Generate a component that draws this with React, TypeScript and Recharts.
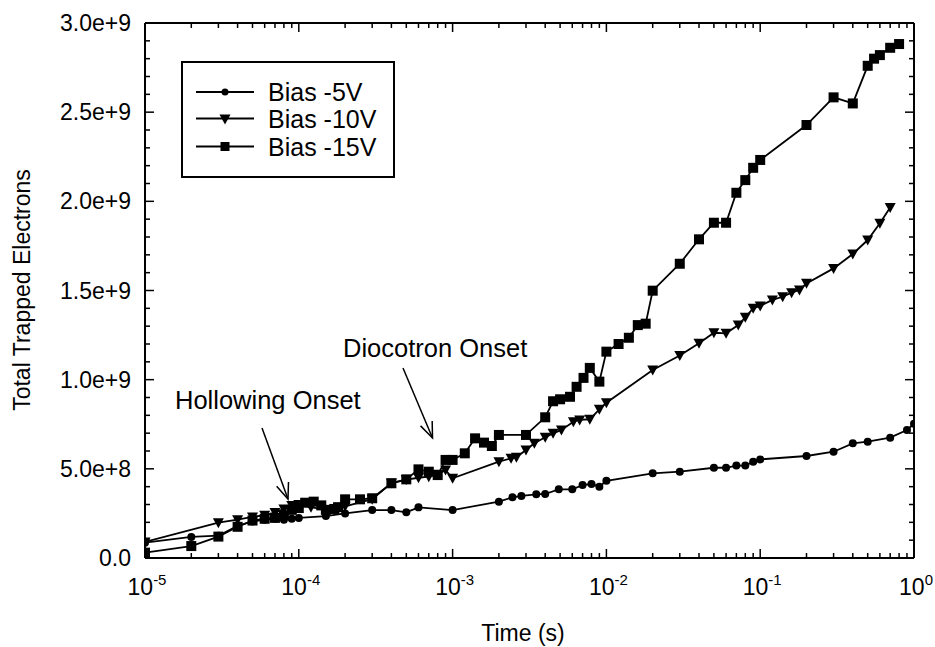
import React from 'react'
import { LineChart, Line, XAxis, YAxis } from 'recharts'

const FONT = '"Liberation Sans", Arial, Helvetica, sans-serif'

// Bias -5V (circles)
const T_5V = [
  1e-5, 2e-5, 3e-5, 4e-5, 5e-5, 6e-5, 7e-5, 8e-5, 9e-5, 1e-4, 1.5e-4, 2e-4, 3e-4, 4e-4, 5e-4, 6e-4,
  1e-3, 2e-3, 2.45e-3, 2.8e-3, 3.5e-3, 4e-3, 4.9e-3, 6e-3, 7e-3, 8e-3, 9e-3, 1e-2, 2e-2, 3e-2, 5e-2,
  6e-2, 7e-2, 8e-2, 9e-2, 1e-1, 2e-1, 3e-1, 4e-1, 5e-1, 7e-1, 9e-1, 1,
]
const N_5V = [
  0.86, 1.18, 1.25, 1.8, 2.05, 2.15, 2.2, 2.15, 2.2, 2.25, 2.35, 2.5, 2.69, 2.69, 2.56, 2.84, 2.69,
  3.16, 3.4, 3.48, 3.57, 3.59, 3.85, 3.85, 4.09, 4.15, 4.0, 4.33, 4.75, 4.84, 5.06, 5.06, 5.18, 5.18,
  5.4, 5.53, 5.72, 5.96, 6.43, 6.52, 6.75, 7.18, 7.53,
]

// Bias -10V (triangles)
const T_10V = [
  1e-5, 3e-5, 4e-5, 5e-5, 6e-5, 7e-5, 8e-5, 9e-5, 1e-4, 1.2e-4, 1.5e-4, 1.8e-4, 2e-4, 3e-4, 4e-4,
  5e-4, 6e-4, 7e-4, 8e-4, 9e-4, 1e-3, 2e-3, 2.4e-3, 2.6e-3, 3e-3, 3.4e-3, 4e-3, 4.5e-3, 5.1e-3,
  6.1e-3, 6.7e-3, 7.8e-3, 9e-3, 1e-2, 2e-2, 3e-2, 4e-2, 5e-2, 6e-2, 7.2e-2, 8e-2, 9e-2, 1e-1,
  1.2e-1, 1.4e-1, 1.6e-1, 1.8e-1, 2e-1, 3e-1, 4e-1, 5e-1, 6e-1, 7e-1,
]
const N_10V = [
  0.9, 1.98, 2.15, 2.3, 2.4, 2.55, 2.75, 2.95, 3.0, 2.85, 2.7, 2.75, 2.9, 3.3, 4.2, 4.4, 4.5, 4.56,
  4.7, 4.93, 4.47, 5.4, 5.59, 5.65, 6.06, 6.43, 6.77, 6.99, 7.18, 7.64, 7.74, 7.78, 8.34, 8.71,
  10.54, 11.35, 12.04, 12.63, 12.6, 13.06, 13.5, 14.0, 14.13, 14.47, 14.65, 14.88, 15.03, 15.4,
  16.24, 17.05, 17.83, 18.77, 19.66,
]

// Bias -15V (squares)
const T_15V = [
  1e-5, 2e-5, 3e-5, 4e-5, 5e-5, 6e-5, 7e-5, 8e-5, 9e-5, 1e-4, 1.1e-4, 1.25e-4, 1.4e-4, 1.5e-4,
  1.7e-4, 1.8e-4, 2e-4, 2.5e-4, 3e-4, 4e-4, 5e-4, 6e-4, 7e-4, 8e-4, 9e-4, 1e-3, 1.2e-3, 1.4e-3,
  1.6e-3, 1.8e-3, 2e-3, 3e-3, 4e-3, 4.5e-3, 5e-3, 5.8e-3, 6.4e-3, 7.1e-3, 7.8e-3, 9e-3, 1e-2,
  1.2e-2, 1.4e-2, 1.6e-2, 1.8e-2, 2e-2, 3e-2, 4e-2, 5e-2, 6e-2, 7e-2, 8e-2, 9e-2, 1e-1, 2e-1,
  3e-1, 4e-1, 5e-1, 5.5e-1, 6e-1, 7e-1, 8e-1,
]
const N_15V = [
  0.3, 0.67, 1.2, 1.75, 2.1, 2.2, 2.25, 2.4, 2.7, 2.8, 3.1, 3.16, 2.95, 2.7, 2.75, 2.85, 3.29,
  3.29, 3.35, 4.19, 4.41, 4.97, 4.84, 4.65, 5.5, 5.5, 5.87, 6.71, 6.47, 6.28, 6.9, 6.9, 7.89, 8.79,
  8.9, 9.04, 9.6, 10.1, 10.66, 9.89, 11.57, 12.0, 12.35, 13.06, 13.14, 14.99, 16.5, 17.87, 18.8,
  18.8, 20.48, 21.19, 21.88, 22.32, 24.28, 25.83, 25.49, 27.6, 28.0, 28.2, 28.61, 28.82,
]

const X_DECADES = [1e-5, 1e-4, 1e-3, 1e-2, 1e-1, 1]
const X_TICKS = X_DECADES.flatMap((d) => (d === 1 ? [1] : [1, 2, 3, 4, 5, 6, 7, 8, 9].map((m) => m * d)))
const Y_TICKS = Array.from({ length: 31 }, (_, i) => i * 1e8)
const Y_LABELED = [0, 5e8, 1e9, 1.5e9, 2e9, 2.5e9, 3e9]

const toSeries = (ts: number[], ns: number[]) => ts.map((t, i) => ({ t, v: ns[i] * 1e8 }))
const S5 = toSeries(T_5V, N_5V)
const S10 = toSeries(T_10V, N_10V)
const S15 = toSeries(T_15V, N_15V)

const isDecade = (v: number) => Math.abs(Math.log10(v) - Math.round(Math.log10(v))) < 1e-6
const isMajorY = (v: number) => Y_LABELED.some((l) => Math.abs(l - v) < 1)

function CircleDot(props: any) {
  const { cx, cy, index } = props
  if (cx == null || cy == null) return <g key={index} />
  return <circle key={index} cx={cx} cy={cy} r={4} fill="#000" />
}

function TriangleDot(props: any) {
  const { cx, cy, index } = props
  if (cx == null || cy == null) return <g key={index} />
  return (
    <polygon
      key={index}
      points={`${cx - 5.5},${cy - 4.5} ${cx + 5.5},${cy - 4.5} ${cx},${cy + 5.5}`}
      fill="#000"
    />
  )
}

function SquareDot(props: any) {
  const { cx, cy, index } = props
  if (cx == null || cy == null) return <g key={index} />
  return <rect key={index} x={cx - 5} y={cy - 5} width={10} height={10} fill="#000" />
}

function BottomTick({ x, y, payload }: any) {
  const v = payload.value
  const major = isDecade(v)
  const exp = Math.round(Math.log10(v))
  return (
    <g>
      <line x1={x} x2={x} y1={y} y2={y - (major ? 9 : 5)} stroke="#000" strokeWidth={1.5} />
      {major && (
        <text x={x + 2} y={y + 37} textAnchor="middle" fontSize={23} fontFamily={FONT} fill="#000">
          <tspan>10</tspan>
          <tspan dy={-10} fontSize={15}>
            {String(exp)}
          </tspan>
        </text>
      )}
    </g>
  )
}

function TopTick({ x, y, payload }: any) {
  const major = isDecade(payload.value)
  return <line x1={x} x2={x} y1={y} y2={y + (major ? 9 : 5)} stroke="#000" strokeWidth={1.5} />
}

function LeftTick({ x, y, payload }: any) {
  const v = payload.value
  const major = isMajorY(v)
  return (
    <g>
      <line x1={x} x2={x + (major ? 9 : 5)} y1={y} y2={y} stroke="#000" strokeWidth={1.5} />
      {major && (
        <text x={x - 14} y={y + 8} textAnchor="end" fontSize={23} fontFamily={FONT} fill="#000">
          {v === 0 ? '0.0' : v.toExponential(1)}
        </text>
      )}
    </g>
  )
}

function RightTick({ x, y, payload }: any) {
  const major = isMajorY(payload.value)
  return <line x1={x} x2={x - (major ? 9 : 5)} y1={y} y2={y} stroke="#000" strokeWidth={1.5} />
}

function Arrow({ x1, y1, x2, y2 }: { x1: number; y1: number; x2: number; y2: number }) {
  const a = Math.atan2(y2 - y1, x2 - x1)
  const len = 17
  const spread = 0.38
  const h1x = x2 - len * Math.cos(a - spread)
  const h1y = y2 - len * Math.sin(a - spread)
  const h2x = x2 - len * Math.cos(a + spread)
  const h2y = y2 - len * Math.sin(a + spread)
  return (
    <g stroke="#000" strokeWidth={1.5} fill="none">
      <line x1={x1} y1={y1} x2={x2} y2={y2} />
      <polyline points={`${h1x},${h1y} ${x2},${y2} ${h2x},${h2y}`} />
    </g>
  )
}

const LEGEND = [
  { name: 'Bias -5V', shape: 'circle' },
  { name: 'Bias -10V', shape: 'triangle' },
  { name: 'Bias -15V', shape: 'square' },
]

function Overlay() {
  const rows = [92, 118.5, 146.5]
  return (
    <svg
      width={935}
      height={647}
      style={{ position: 'absolute', left: 0, top: 0, pointerEvents: 'none' }}
      fontFamily={FONT}
    >
      <rect x={182} y={62} width={212} height={115} fill="#fff" stroke="#000" strokeWidth={2} />
      {LEGEND.map((item, i) => {
        const y = rows[i]
        return (
          <g key={item.name}>
            <line x1={196} x2={254} y1={y} y2={y} stroke="#000" strokeWidth={1.8} />
            {item.shape === 'circle' && <circle cx={225} cy={y} r={3.5} fill="#000" />}
            {item.shape === 'triangle' && (
              <polygon points={`${219.5},${y - 4} ${230.5},${y - 4} ${225},${y + 6}`} fill="#000" />
            )}
            {item.shape === 'square' && <rect x={220.5} y={y - 4.5} width={9} height={9} fill="#000" />}
            <text x={268} y={y + 9} fontSize={25} fill="#000">
              {item.name}
            </text>
          </g>
        )
      })}
      <text x={175} y={409} fontSize={25.5} fill="#000">
        Hollowing Onset
      </text>
      <Arrow x1={262} y1={428} x2={288} y2={499} />
      <text x={343} y={357} fontSize={25.5} fill="#000">
        Diocotron Onset
      </text>
      <Arrow x1={403} y1={368} x2={432.5} y2={438} />
      <text x={523} y={641} fontSize={23} textAnchor="middle" fill="#000">
        Time (s)
      </text>
      <text
        x={30}
        y={290}
        fontSize={23}
        textAnchor="middle"
        fill="#000"
        transform="rotate(-90 30 290)"
      >
        Total Trapped Electrons
      </text>
    </svg>
  )
}

export default function App() {
  const axisLine = { stroke: '#000', strokeWidth: 2 }
  return (
    <div
      style={{
        position: 'absolute',
        left: 0,
        top: 0,
        width: 935,
        height: 647,
        background: '#fff',
        fontFamily: FONT,
      }}
    >
      <LineChart width={935} height={647} margin={{ top: 0, right: 0, bottom: 0, left: 0 }}>
        <XAxis
          xAxisId={0}
          dataKey="t"
          type="number"
          scale="log"
          domain={[1e-5, 1]}
          allowDataOverflow
          ticks={X_TICKS}
          interval={0}
          height={89}
          tickSize={0}
          tickMargin={0}
          tickLine={false}
          axisLine={axisLine}
          tick={(p: any) => <BottomTick {...p} />}
        />
        <XAxis
          xAxisId="top"
          orientation="top"
          dataKey="t"
          type="number"
          scale="log"
          domain={[1e-5, 1]}
          allowDataOverflow
          ticks={X_TICKS}
          interval={0}
          height={23}
          tickSize={0}
          tickMargin={0}
          tickLine={false}
          axisLine={axisLine}
          tick={(p: any) => <TopTick {...p} />}
        />
        <YAxis
          yAxisId={0}
          type="number"
          domain={[0, 3e9]}
          allowDataOverflow
          ticks={Y_TICKS}
          interval={0}
          width={145}
          tickSize={0}
          tickMargin={0}
          tickLine={false}
          axisLine={axisLine}
          tick={(p: any) => <LeftTick {...p} />}
        />
        <YAxis
          yAxisId="right"
          orientation="right"
          type="number"
          domain={[0, 3e9]}
          allowDataOverflow
          ticks={Y_TICKS}
          interval={0}
          width={21}
          tickSize={0}
          tickMargin={0}
          tickLine={false}
          axisLine={axisLine}
          tick={(p: any) => <RightTick {...p} />}
        />
        <Line
          data={S5}
          dataKey="v"
          type="linear"
          stroke="#000"
          strokeWidth={1.8}
          dot={CircleDot}
          activeDot={false}
          isAnimationActive={false}
        />
        <Line
          data={S10}
          dataKey="v"
          type="linear"
          stroke="#000"
          strokeWidth={1.8}
          dot={TriangleDot}
          activeDot={false}
          isAnimationActive={false}
        />
        <Line
          data={S15}
          dataKey="v"
          type="linear"
          stroke="#000"
          strokeWidth={1.8}
          dot={SquareDot}
          activeDot={false}
          isAnimationActive={false}
        />
      </LineChart>
      <Overlay />
    </div>
  )
}
